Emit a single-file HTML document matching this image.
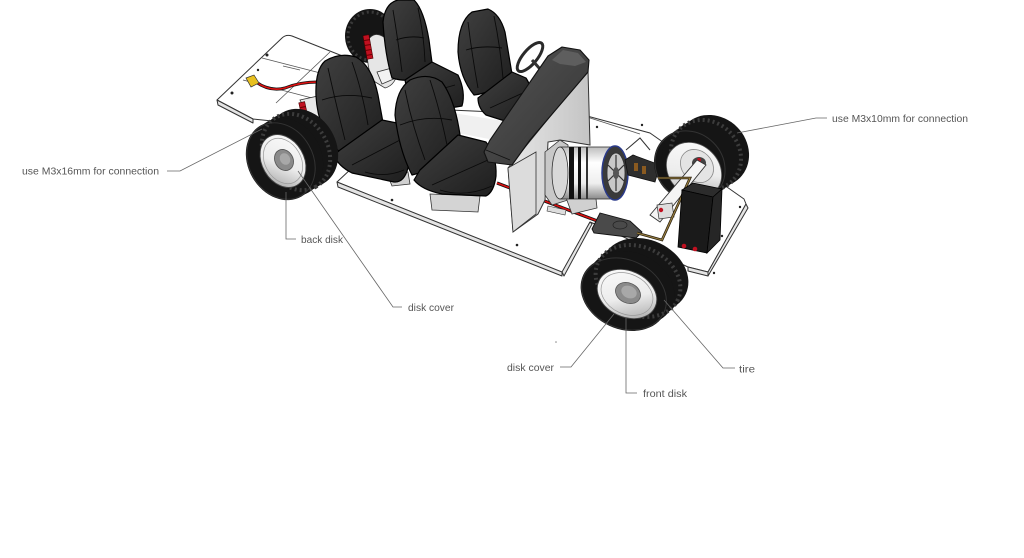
<!DOCTYPE html>
<html><head><meta charset="utf-8">
<style>
html,body{margin:0;padding:0;background:#fff;}
svg{display:block;}
text{font-family:"Liberation Sans",Arial,sans-serif;font-size:10.5px;fill:#555;}
</style></head><body>
<svg width="1024" height="558" viewBox="0 0 1024 558" xmlns="http://www.w3.org/2000/svg">
<defs>
 <linearGradient id="rim" x1="0" y1="0" x2="1" y2="1">
  <stop offset="0" stop-color="#fdfdfd"/><stop offset="0.55" stop-color="#ececec"/><stop offset="1" stop-color="#9a9a9a"/>
 </linearGradient>
 <linearGradient id="motor" x1="0" y1="0" x2="0" y2="1">
  <stop offset="0" stop-color="#bdbdbd"/><stop offset="0.3" stop-color="#fff"/><stop offset="0.7" stop-color="#eee"/><stop offset="1" stop-color="#8a8a8a"/>
 </linearGradient>
 <linearGradient id="seat" x1="0" y1="0" x2="1" y2="1">
  <stop offset="0" stop-color="#404040"/><stop offset="1" stop-color="#1e1e1e"/>
 </linearGradient>
 <linearGradient id="dash" x1="0" y1="0" x2="1" y2="1">
  <stop offset="0" stop-color="#555"/><stop offset="1" stop-color="#333"/>
 </linearGradient>
 <linearGradient id="fw" x1="0" y1="0" x2="1" y2="0">
  <stop offset="0" stop-color="#e6e6e6"/><stop offset="1" stop-color="#c4c4c4"/>
 </linearGradient>
</defs>

<!-- ===== PLATES ===== -->
<g stroke="#333" stroke-width="1" stroke-linejoin="round">
 <path d="M217,100 L282,38 Q286,34 292,36 L345,57 L340,128 L253,119 Z" fill="#fff"/>
 <path d="M217,100 L253,119 L253,123 L218,105 Z" fill="#e4e4e4"/>
 <path d="M337,182 L352,168 L450,110 L587,116 L650,133 L744,199 L746,204 L708,272 L688,267 L600,226 L590,222 L562,273 Z" fill="#fff"/>
 <path d="M337,182 L562,272 L562,276 L338,187 Z" fill="#e4e4e4"/>
 <path d="M562,272 L590,222 L592,224 L564,276 Z" fill="#e4e4e4"/>
 <path d="M688,267 L708,272 L708,276 L688,271 Z" fill="#e4e4e4"/>
 <path d="M746,204 L748,208 L708,276 L708,272 Z" fill="#e4e4e4"/>
</g>
<g stroke="#555" stroke-width="0.8" fill="none">
 <path d="M262,58 L332,76"/>
 <path d="M243,80 L312,98"/>
 <path d="M330,52 L276,103"/>
 <path d="M587,117 L640,134"/>
 <path d="M352,168 L345,150"/>
 <path d="M283,66 L300,70"/>
</g>
<path d="M453,113 L510,122 L505,142 L452,132 Z" fill="#f0f0f0" stroke="none"/>
<g fill="#222">
 <circle cx="267" cy="55" r="1.5"/><circle cx="232" cy="93" r="1.5"/><circle cx="258" cy="70" r="1.2"/>
 <circle cx="392" cy="200" r="1.3"/><circle cx="517" cy="245" r="1.3"/><circle cx="597" cy="127" r="1.2"/>
 <circle cx="714" cy="273" r="1.2"/><circle cx="740" cy="207" r="1.2"/><circle cx="722" cy="236" r="1.2"/>
 <circle cx="642" cy="125" r="1.2"/>
</g>

<!-- rear wire + connector -->
<path d="M256,82 Q270,92 285,88 Q300,82 318,82" stroke="#111" stroke-width="3" fill="none"/>
<path d="M256,82 Q270,92 285,88 Q300,82 318,82" stroke="#e01010" stroke-width="1.6" fill="none"/>
<path d="M246,78 L254,75 L259,83 L251,87 Z" fill="#e8c020" stroke="#333" stroke-width="0.7"/>

<!-- far rear tire -->
<ellipse cx="370" cy="36" rx="25" ry="27" fill="#151515"/>
<ellipse cx="370" cy="36" rx="22" ry="24" fill="none" stroke="#3a3a3a" stroke-width="3" stroke-dasharray="2 3"/>
<path d="M368,40 Q375,30 385,38 L398,70 Q396,85 385,88 L372,80 Q365,60 368,40 Z" fill="#e6e6e6" stroke="#333" stroke-width="0.8"/>
<path d="M377,72 L392,68 L396,78 L382,84 Z" fill="#f2f2f2" stroke="#333" stroke-width="0.8"/>
<g transform="rotate(-10 368 47)">
 <rect x="365" y="35" width="6" height="24" fill="#c01020" stroke="#400" stroke-width="0.6"/>
 <path d="M365,40 H371 M365,45 H371 M365,50 H371 M365,55 H371" stroke="#600" stroke-width="1"/>
</g>
<!-- near rear shock -->
<path d="M300,100 L318,96 L330,118 L340,140 L322,142 L312,122 Z" fill="#e8e8e8" stroke="#333" stroke-width="0.8"/>
<g transform="rotate(-12 304 113)">
 <rect x="301" y="102" width="6" height="22" fill="#c01020" stroke="#400" stroke-width="0.6"/>
 <path d="M301,107 H307 M301,112 H307 M301,117 H307" stroke="#600" stroke-width="1"/>
</g>

<!-- ===== SEATS A & B ===== -->
<g stroke="#000" stroke-width="1.2" stroke-linejoin="round">
 <path d="M383,22 Q385,3 398,0 L414,0 Q424,10 429,40 L433,70 Q415,85 392,78 Q385,55 383,22 Z" fill="url(#seat)"/>
 <path d="M405,80 L432,62 L458,75 Q466,92 462,106 L438,110 Q418,104 408,95 Z" fill="url(#seat)"/>
 <path d="M458,52 Q458,22 472,12 L488,9 Q500,14 505,32 L512,74 Q498,92 474,95 Q460,78 458,52 Z" fill="url(#seat)"/>
 <path d="M478,98 L512,72 L526,78 Q535,92 532,110 L505,121 L486,115 Q478,108 478,98 Z" fill="url(#seat)"/>
</g>
<g stroke="#0a0a0a" stroke-width="0.9" fill="none">
 <path d="M393,10 Q398,40 402,72"/><path d="M418,8 Q424,35 425,62"/><path d="M396,40 Q410,35 424,38"/>
 <path d="M468,22 Q472,55 478,88"/><path d="M494,16 Q500,45 503,78"/><path d="M466,50 Q482,45 502,48"/>
 <path d="M490,108 L525,92"/><path d="M420,95 L455,85"/>
</g>

<!-- steering wheel -->
<ellipse cx="530" cy="57" rx="7" ry="18" transform="rotate(40 530 57)" fill="none" stroke="#2a2a2a" stroke-width="3"/>
<path d="M532,60 L548,78" stroke="#333" stroke-width="3"/>

<!-- red wire middle -->
<path d="M497,183 L600,222" stroke="#111" stroke-width="3.2"/>
<path d="M497,183 L600,222" stroke="#e01010" stroke-width="1.6"/>

<!-- firewall -->
<path d="M508,168 L588,70 L590,145 L560,140 L548,142 L545,200 L538,214 L513,232 Z" fill="url(#fw)" stroke="#333" stroke-width="1"/>
<path d="M508,168 L536,152 L536,214 L513,232 Z" fill="#dcdcdc" stroke="#333" stroke-width="0.8"/>

<!-- seat bases -->
<path d="M388,176 L408,172 L410,184 L392,186 Z" fill="#d0d0d0" stroke="#333" stroke-width="0.8"/>
<path d="M430,194 L480,196 L478,212 L432,210 Z" fill="#d4d4d4" stroke="#333" stroke-width="0.8"/>

<!-- ===== SEATS C & D ===== -->
<g stroke="#000" stroke-width="1.2" stroke-linejoin="round">
 <path d="M316,96 Q315,70 325,61 Q340,52 356,57 Q372,66 378,95 L384,128 Q372,150 350,158 Q332,150 324,130 Q317,115 316,96 Z" fill="url(#seat)"/>
 <path d="M340,150 L382,120 L402,124 Q410,140 408,168 Q404,183 394,182 L352,173 Q338,166 334,155 Z" fill="url(#seat)"/>
 <path d="M395,115 Q396,90 410,80 Q428,72 442,82 Q455,100 460,135 L455,165 Q430,170 412,175 Q399,150 395,115 Z" fill="url(#seat)"/>
 <path d="M420,170 L458,135 L486,142 Q497,156 496,176 Q494,192 486,196 L442,194 Q422,190 414,180 Z" fill="url(#seat)"/>
</g>
<g stroke="#0a0a0a" stroke-width="0.9" fill="none">
 <path d="M328,68 Q335,100 345,140"/><path d="M352,62 Q362,90 368,125"/><path d="M322,100 Q345,92 372,98"/>
 <path d="M352,165 L400,140"/><path d="M365,172 Q385,178 404,170"/>
 <path d="M405,90 Q412,125 425,160"/><path d="M430,80 Q440,110 447,145"/><path d="M400,125 Q425,115 452,120"/>
 <path d="M432,185 L488,160"/><path d="M440,190 Q465,198 492,186"/>
</g>

<!-- dashboard -->
<path d="M484,152 L490,140 L548,56 L562,47 L580,50 L589,60 L588,72 L530,140 L512,165 L488,162 Z" fill="url(#dash)" stroke="#111" stroke-width="1.1" stroke-linejoin="round"/>
<path d="M552,60 L563,50 L578,53 L586,62 L575,66 L560,64 Z" fill="#5e5e5e" stroke="none"/>
<path d="M486,150 L510,160" stroke="#111" stroke-width="0.8"/>

<!-- ===== MOTOR ===== -->
<path d="M545,152 L560,140 L568,145 L568,200 L552,205 L545,195 Z" fill="#c8c8c8" stroke="#333" stroke-width="0.8"/>
<path d="M565,195 L595,190 L597,208 L572,214 Z" fill="#d0d0d0" stroke="#333" stroke-width="0.8"/>
<path d="M548,206 L566,210 L565,215 L547,211 Z" fill="#ddd" stroke="#333" stroke-width="0.6"/>
<rect x="560" y="147" width="55" height="52" fill="url(#motor)" stroke="#333" stroke-width="0.8"/>
<ellipse cx="560" cy="173" rx="8" ry="26" fill="#d8d8d8" stroke="#333" stroke-width="0.8"/>
<rect x="569" y="147" width="5" height="52" fill="#111"/>
<rect x="578" y="147" width="3" height="52" fill="#111"/>
<rect x="586" y="147" width="2" height="52" fill="#333"/>
<ellipse cx="615" cy="173" rx="13" ry="27" fill="#3a3a3a" stroke="#2a3a8a" stroke-width="1.5"/>
<ellipse cx="616" cy="173" rx="9" ry="20" fill="#c8c8c8" stroke="#333" stroke-width="0.8"/>
<g stroke="#333" stroke-width="1.2"><path d="M616,155 L616,191"/><path d="M608,165 L624,181"/><path d="M608,181 L624,165"/></g>
<ellipse cx="616" cy="173" rx="3" ry="6" fill="#555"/>

<!-- receiver + ESC -->
<path d="M625,160 L633,155 L660,165 L655,182 L628,175 Z" fill="#2e2e2e" stroke="#111" stroke-width="0.8"/>
<rect x="634" y="163" width="4" height="8" fill="#8a5a20"/><rect x="642" y="166" width="4" height="8" fill="#8a5a20"/>
<path d="M626,150 L640,138 L650,150" stroke="#333" stroke-width="1" fill="none"/>
<path d="M592,229 L600,213 L630,221 L642,232 L636,238 L594,233 Z" fill="#4a4a4a" stroke="#111" stroke-width="0.9"/>
<ellipse cx="620" cy="225" rx="7" ry="4" fill="none" stroke="#222" stroke-width="0.7"/>

<!-- ===== RIGHT FRONT (top) TIRE ===== -->
<g fill="#151515">
 <ellipse cx="690" cy="166" rx="38" ry="34" transform="rotate(45 690 166)"/>
 <ellipse cx="698" cy="161" rx="38" ry="34" transform="rotate(45 698 161)"/>
 <ellipse cx="705" cy="156" rx="38" ry="34" transform="rotate(45 705 156)"/>
 <ellipse cx="713" cy="151" rx="38" ry="34" transform="rotate(45 713 151)"/>
</g>
<ellipse cx="706" cy="155" rx="37" ry="33" transform="rotate(45 706 155)" fill="none" stroke="#3c3c3c" stroke-width="4" stroke-dasharray="2 3"/>
<ellipse cx="690" cy="166" rx="37" ry="33" transform="rotate(45 690 166)" fill="none" stroke="#333" stroke-width="1"/>
<ellipse cx="694" cy="170" rx="30" ry="25" transform="rotate(45 694 170)" fill="url(#rim)" stroke="#555" stroke-width="0.8"/>
<ellipse cx="697" cy="166" rx="18" ry="15" transform="rotate(45 697 166)" fill="#e4e4e4" stroke="#888" stroke-width="0.8"/>
<ellipse cx="699" cy="163" rx="7" ry="6" fill="#444"/>
<circle cx="699" cy="160" r="2" fill="#c01020"/>

<!-- front axle, servo, wire -->
<path d="M650,215 L697,160 L706,165 L660,222 Z" fill="#f4f4f4" stroke="#333" stroke-width="0.9"/>
<path d="M657,205 L672,203 L674,217 L659,219 Z" fill="#ddd" stroke="#333" stroke-width="0.7"/>
<circle cx="661" cy="210" r="2.2" fill="#c01020"/>
<path d="M658,178 L690,178 L662,240 L637,233" stroke="#2a2010" stroke-width="2.6" fill="none"/>
<path d="M658,178 L690,178 L662,240 L637,233" stroke="#9a8040" stroke-width="1.1" fill="none"/>

<!-- battery -->
<path d="M682,190 L693,183 L722,189 L713,197 Z" fill="#2c2c2c" stroke="#000" stroke-width="0.8"/>
<path d="M682,190 L713,197 L707,253 L678,247 Z" fill="#1a1a1a" stroke="#000" stroke-width="0.8"/>
<path d="M713,197 L722,189 L720,240 L707,253 Z" fill="#262626" stroke="#000" stroke-width="0.8"/>
<circle cx="684" cy="246" r="2.3" fill="#c01020"/><circle cx="695" cy="249" r="2.3" fill="#c01020"/>

<!-- ===== REAR LEFT TIRE ===== -->
<g fill="#151515">
 <ellipse cx="303" cy="148" rx="41" ry="33" transform="rotate(60 303 148)"/>
 <ellipse cx="296" cy="152" rx="41" ry="33" transform="rotate(60 296 152)"/>
 <ellipse cx="288" cy="157" rx="41" ry="33" transform="rotate(60 288 157)"/>
 <ellipse cx="281" cy="161" rx="41" ry="33" transform="rotate(60 281 161)"/>
</g>
<ellipse cx="296" cy="152" rx="40" ry="32" transform="rotate(60 296 152)" fill="none" stroke="#3c3c3c" stroke-width="4" stroke-dasharray="2 3"/>
<ellipse cx="281" cy="161" rx="40" ry="32" transform="rotate(60 281 161)" fill="none" stroke="#333" stroke-width="1"/>
<ellipse cx="283" cy="161" rx="28" ry="21" transform="rotate(60 283 161)" fill="url(#rim)" stroke="#444" stroke-width="0.9"/>
<ellipse cx="283" cy="161" rx="24" ry="18" transform="rotate(60 283 161)" fill="none" stroke="#999" stroke-width="0.7"/>
<ellipse cx="284" cy="160" rx="11" ry="9" transform="rotate(60 284 160)" fill="#8a8a8a" stroke="#555" stroke-width="0.8"/>
<ellipse cx="285" cy="159" rx="6" ry="5" transform="rotate(60 285 159)" fill="#a8a8a8"/>

<!-- ===== FRONT (bottom) TIRE ===== -->
<g fill="#151515">
 <ellipse cx="645" cy="275" rx="45" ry="35" transform="rotate(25 645 275)"/>
 <ellipse cx="638" cy="281" rx="45" ry="35" transform="rotate(25 638 281)"/>
 <ellipse cx="631" cy="288" rx="45" ry="35" transform="rotate(25 631 288)"/>
 <ellipse cx="624" cy="294" rx="45" ry="35" transform="rotate(25 624 294)"/>
</g>
<ellipse cx="638" cy="281" rx="44" ry="34" transform="rotate(25 638 281)" fill="none" stroke="#3c3c3c" stroke-width="4" stroke-dasharray="2 3"/>
<ellipse cx="624" cy="294" rx="44" ry="34" transform="rotate(25 624 294)" fill="none" stroke="#333" stroke-width="1"/>
<ellipse cx="627" cy="294" rx="31" ry="23" transform="rotate(25 627 294)" fill="url(#rim)" stroke="#444" stroke-width="0.9"/>
<ellipse cx="627" cy="294" rx="27" ry="20" transform="rotate(25 627 294)" fill="none" stroke="#999" stroke-width="0.7"/>
<ellipse cx="628" cy="293" rx="13" ry="10" transform="rotate(25 628 293)" fill="#8a8a8a" stroke="#555" stroke-width="0.8"/>
<ellipse cx="629" cy="292" rx="8" ry="6" transform="rotate(25 629 292)" fill="#a8a8a8"/>

<!-- ===== LEADERS ===== -->
<g stroke="#666" stroke-width="0.8" fill="none">
 <path d="M167,171 H180 L262,129"/>
 <path d="M296,239 H286 V192"/>
 <path d="M402,307 H393 L298,171"/>
 <path d="M827,118 H816 L737,133"/>
 <path d="M560,367 H571 L614,314"/>
 <path d="M637,393 H626 V318"/>
 <path d="M735,368 H723 L664,300"/>
</g>
<circle cx="556" cy="342" r="0.8" fill="#888"/>

<!-- ===== LABELS ===== -->
<text x="22" y="174.5" textLength="137" lengthAdjust="spacingAndGlyphs">use M3x16mm for connection</text>
<text x="301" y="243" textLength="42" lengthAdjust="spacingAndGlyphs">back disk</text>
<text x="408" y="311" textLength="46" lengthAdjust="spacingAndGlyphs">disk cover</text>
<text x="832" y="122" textLength="136" lengthAdjust="spacingAndGlyphs">use M3x10mm for connection</text>
<text x="507" y="371" textLength="47" lengthAdjust="spacingAndGlyphs">disk cover</text>
<text x="643" y="397" textLength="44" lengthAdjust="spacingAndGlyphs">front disk</text>
<text x="739" y="372.5" textLength="16" lengthAdjust="spacingAndGlyphs">tire</text>
</svg>
</body></html>
